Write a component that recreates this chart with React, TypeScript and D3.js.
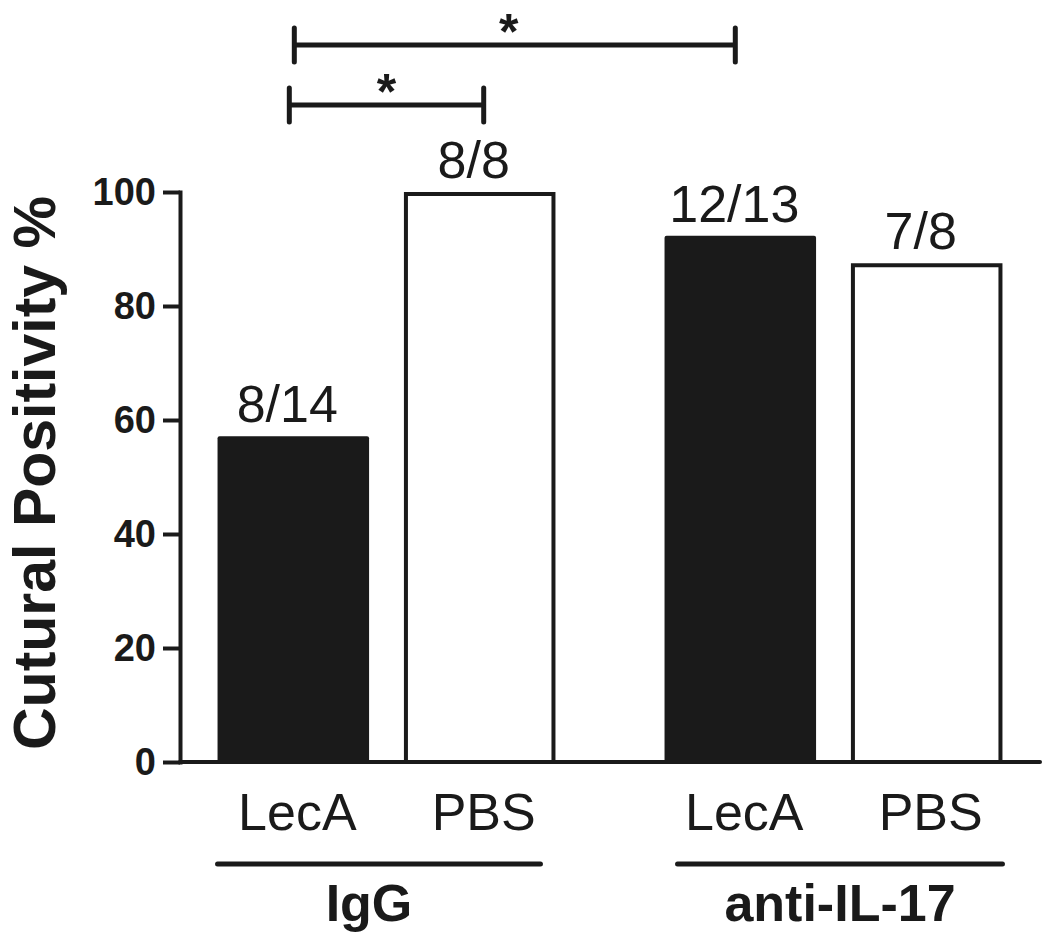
import React, { useEffect, useRef } from 'react';
import * as d3 from 'd3';

// datos
const groups = ['IgG', 'anti-IL-17'];
const treatments = ['LecA', 'PBS'];
const positives = [[8, 8], [12, 7]];
const totals = [[14, 8], [13, 8]];
const tickValues = [0, 20, 40, 60, 80, 100];
const comparisons = [
  { from: ['IgG', 'LecA'], to: ['IgG', 'PBS'], label: '*', level: 0 },
  { from: ['IgG', 'LecA'], to: ['anti-IL-17', 'LecA'], label: '*', level: 1 },
];
const yTitle = 'Cutural Positivity %';

const INK = '#1a1a1a';
const FONT = '"Liberation Sans", Arial, Helvetica, sans-serif';

const App = () => {
  const chartRef = useRef<SVGSVGElement | null>(null);

  useEffect(() => {
    const width = 1050;
    const height = 945;
    const left = 180;
    const right = 1040;
    const top = 192;
    const bottom = 762;

    const svg = d3.select(chartRef.current)
      .attr('width', width)
      .attr('height', height)
      .style('font-family', FONT);
    svg.selectAll('*').remove();

    // escalas
    const x0 = d3.scaleBand<string>()
      .domain(groups)
      .range([left, right])
      .paddingInner(0.244)
      .paddingOuter(0.084);

    const x1 = d3.scaleBand<string>()
      .domain(treatments)
      .range([0, x0.bandwidth()])
      .paddingInner(0.187)
      .paddingOuter(0);

    const y = d3.scaleLinear().domain([0, 100]).range([bottom, top]);

    const rows = groups.flatMap((g, gi) =>
      treatments.map((t, ti) => ({
        group: g,
        treatment: t,
        pos: positives[gi][ti],
        total: totals[gi][ti],
        value: (positives[gi][ti] / totals[gi][ti]) * 100,
        filled: t === 'LecA',
      }))
    );

    const cx = (g: string, t: string) => (x0(g) ?? 0) + (x1(t) ?? 0) + x1.bandwidth() / 2;

    // barras
    const bars = svg.append('g');
    bars.selectAll('rect')
      .data(rows)
      .join('rect')
      .attr('x', d => (x0(d.group) ?? 0) + (x1(d.treatment) ?? 0) + (d.filled ? 0 : 2))
      .attr('y', d => y(d.value) + (d.filled ? 0 : 2))
      .attr('width', d => x1.bandwidth() - (d.filled ? 0 : 4))
      .attr('height', d => y(0) - y(d.value) - (d.filled ? 0 : 2))
      .attr('rx', d => (d.filled ? 2 : 0))
      .attr('fill', d => (d.filled ? INK : '#fff'))
      .attr('stroke', d => (d.filled ? 'none' : INK))
      .attr('stroke-width', 4);

    // etiquetas n/N
    svg.append('g').selectAll('text')
      .data(rows)
      .join('text')
      .attr('x', d => cx(d.group, d.treatment) - 6)
      .attr('y', d => y(d.value) - 14)
      .attr('text-anchor', 'middle')
      .attr('font-size', 52)
      .attr('fill', INK)
      .text(d => `${d.pos}/${d.total}`);

    // eje Y
    const yAxis = svg.append('g')
      .attr('transform', `translate(${left},0)`)
      .call(d3.axisLeft(y).tickValues(tickValues).tickSize(17).tickSizeOuter(0).tickPadding(7));
    yAxis.select('.domain').attr('stroke', INK).attr('stroke-width', 4).attr('stroke-linecap', 'square');
    yAxis.selectAll('.tick line').attr('stroke', INK).attr('stroke-width', 4);
    yAxis.selectAll('.tick text')
      .attr('font-size', 38)
      .attr('font-weight', 'bold')
      .attr('font-family', FONT)
      .attr('fill', INK);

    // linea base
    svg.append('line')
      .attr('x1', left)
      .attr('x2', right)
      .attr('y1', y(0))
      .attr('y2', y(0))
      .attr('stroke', INK)
      .attr('stroke-width', 4)
      .attr('stroke-linecap', 'round');

    // titulo eje Y
    svg.append('text')
      .attr('transform', `translate(55,${(top + bottom) / 2 - 4}) rotate(-90)`)
      .attr('text-anchor', 'middle')
      .attr('font-size', 59)
      .attr('font-weight', 'bold')
      .attr('fill', INK)
      .text(yTitle);

    // categorias
    svg.append('g').selectAll('text')
      .data(rows)
      .join('text')
      .attr('x', d => cx(d.group, d.treatment) + 4)
      .attr('y', 830)
      .attr('text-anchor', 'middle')
      .attr('font-size', 52)
      .attr('fill', INK)
      .text(d => d.treatment);

    // grupos con subrayado
    const underline = (g: string, i: number) => {
      const s = x0(g) ?? 0;
      return i === 0 ? [s, s + x0.bandwidth() - 15] : [s + 13, s + x0.bandwidth()];
    };
    const grp = svg.append('g').selectAll('g').data(groups).join('g');
    grp.append('line')
      .attr('x1', (g, i) => underline(g, i)[0])
      .attr('x2', (g, i) => underline(g, i)[1])
      .attr('y1', 864)
      .attr('y2', 864)
      .attr('stroke', INK)
      .attr('stroke-width', 5)
      .attr('stroke-linecap', 'round');
    grp.append('text')
      .attr('x', (g, i) => (underline(g, i)[0] + underline(g, i)[1]) / 2 + (i === 0 ? -10 : 0))
      .attr('y', 921)
      .attr('text-anchor', 'middle')
      .attr('font-size', 52)
      .attr('font-weight', 'bold')
      .attr('fill', INK)
      .text(g => g);

    // significancia
    const levelY = [105, 45];
    const sig = svg.append('g').selectAll('g').data(comparisons).join('g');
    const xa = (c: typeof comparisons[0]) => cx(c.from[0], c.from[1]) - 4 + c.level * 5;
    const xb = (c: typeof comparisons[0]) => cx(c.to[0], c.to[1]) + 4 - c.level * 9;
    sig.append('path')
      .attr('d', c => {
        const yy = levelY[c.level];
        return `M${xa(c)},${yy}H${xb(c)}M${xa(c)},${yy - 17}V${yy + 17}M${xb(c)},${yy - 17}V${yy + 17}`;
      })
      .attr('fill', 'none')
      .attr('stroke', INK)
      .attr('stroke-width', 5)
      .attr('stroke-linecap', 'round');
    sig.append('text')
      .attr('x', c => (xa(c) + xb(c)) / 2 - c.level * 6)
      .attr('y', c => levelY[c.level] + 4)
      .attr('text-anchor', 'middle')
      .attr('font-size', 50)
      .attr('font-weight', 'bold')
      .attr('fill', INK)
      .text(c => c.label);
  }, []);

  return (
    <svg ref={chartRef} style={{ position: 'absolute', left: 0, top: 0, display: 'block' }}></svg>
  );
};

export default App;
